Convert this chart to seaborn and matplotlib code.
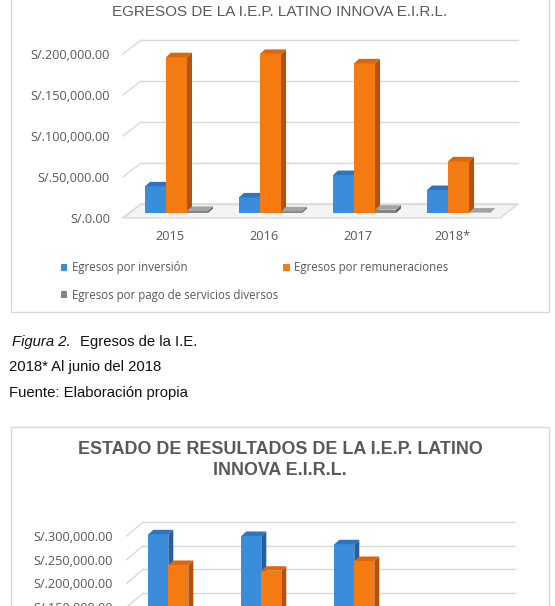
import matplotlib
matplotlib.use("Agg")
import numpy as np
import pandas as pd
import seaborn as sns
import matplotlib.pyplot as plt
import matplotlib.transforms as mtransforms
from matplotlib.patches import Polygon, Rectangle
from matplotlib.lines import Line2D
from matplotlib.ticker import FuncFormatter

# values
years = ["2015", "2016", "2017", "2018*"]

egresos_series = ["Egresos por inversión", "Egresos por remuneraciones",
                  "Egresos por pago de servicios diversos"]
egresos_inversion = [32500, 19000, 46300, 28000]
egresos_remuneraciones = [190000, 194000, 182500, 63000]
egresos_servicios = [2500, 2000, 4000, 500]

resultados_series = ["Ingresos", "Egresos", "Utilidad"]
ingresos = [293000, 289500, 272000, 130000]
egresos_totales = [228300, 216200, 236700, 91500]
utilidad = [64700, 73300, 35300, 38500]

W, H, DPI = 555, 606, 100
front_colors = ["#3C8CDC", "#F47A12", "#858585"]
side_colors = ["#22609F", "#B4520A", "#5E5E5E"]
top_colors = ["#2F74BF", "#DC660C", "#A3A3A3"]
GRAY = "#595959"
GRID = "#D9D9D9"
SMALL = "Open Sans"
ARIAL = "Liberation Sans"


def box(x0, y0, x1, y1):
    # pixel box (from top-left) -> figure fraction rect
    return [x0 / W, 1 - y1 / H, (x1 - x0) / W, (y1 - y0) / H]


def px(x, y):
    return x / W, 1 - y / H


def long_table(series, values):
    rows = []
    for name, vals in zip(series, values):
        for year, v in zip(years, vals):
            rows.append({"year": year, "serie": name, "value": v})
    return pd.DataFrame(rows)


def chart_3d(ax, df, series, xlim, ymax, step, width, ypad=9.4, tick_from=0,
             bar_depth=(5, 4.5), wall_dx=18, wall_up=9, drop=5):
    fig = ax.figure
    sns.barplot(data=df, x="year", y="value", hue="serie", hue_order=series,
                palette=front_colors, width=width, saturation=1, linewidth=0,
                legend=False, ax=ax)
    ax.set_xlim(*xlim)
    ax.set_ylim(0, ymax)
    ax.set_xlabel("")
    ax.set_ylabel("")
    for s in ax.spines.values():
        s.set_visible(False)
    ax.set_facecolor("none")
    ax.grid(False)

    # ticks
    levels = np.arange(tick_from, ymax + 1, step)
    ax.set_yticks(levels)
    ax.yaxis.set_major_formatter(FuncFormatter(lambda v, p: f"S/.{v:,.2f}"))
    ax.tick_params(axis="both", length=0, colors=GRAY, labelsize=9.2)
    ax.tick_params(axis="y", pad=ypad)
    ax.tick_params(axis="x", pad=12.2)
    for lab in ax.get_yticklabels() + ax.get_xticklabels():
        lab.set_fontfamily(SMALL)
    down = mtransforms.ScaledTranslation(0, -drop / DPI, fig.dpi_scale_trans)
    left = mtransforms.ScaledTranslation(-6.5 / DPI, 0, fig.dpi_scale_trans)
    for t in ax.yaxis.get_major_ticks():
        t.label1.set_transform(t.label1.get_transform() + down)
    for t in ax.xaxis.get_major_ticks():
        t.label1.set_transform(t.label1.get_transform() + left)

    ident = mtransforms.IdentityTransform()
    T = ax.transData
    x_l, x_r = xlim
    # floor
    (fl, fz), (fr, _) = T.transform([(x_l, 0), (x_r, 0)])
    floor = Polygon([(fl, fz - drop), (fr, fz - drop), (fr + wall_dx, fz + wall_up),
                     (fl + wall_dx, fz + wall_up)], closed=True, transform=ident,
                    facecolor="#F4F4F4", edgecolor=GRID, lw=1, zorder=0.5, clip_on=False)
    ax.add_patch(floor)
    # back wall gridlines + left wall edges
    for v in levels:
        (a, y), (b, _) = T.transform([(x_l, v), (x_r, v)])
        ax.add_line(Line2D([a + wall_dx, b + wall_dx], [y + wall_up, y + wall_up],
                           transform=ident, color=GRID, lw=1, zorder=0.6, clip_on=False))
        ax.add_line(Line2D([a, a + wall_dx], [y - drop, y + wall_up],
                           transform=ident, color=GRID, lw=1, zorder=0.6, clip_on=False))

    # fake depth on the bars
    ddx, ddy = bar_depth
    for i, cont in enumerate(ax.containers):
        z = 2 + i * 0.1
        for bar in cont:
            bar.set_zorder(z)
            x0, y0 = bar.get_x(), bar.get_y()
            (a, b0), (c, b1) = T.transform([(x0, y0), (x0 + bar.get_width(), y0 + bar.get_height())])
            topf = Polygon([(a, b1), (c, b1), (c + ddx, b1 + ddy), (a + ddx, b1 + ddy)],
                           closed=True, transform=ident, facecolor=top_colors[i],
                           lw=0, zorder=z, clip_on=False)
            sidef = Polygon([(c, b0), (c, b1), (c + ddx, b1 + ddy), (c + ddx, b0 + ddy)],
                            closed=True, transform=ident, facecolor=side_colors[i],
                            lw=0, zorder=z, clip_on=False)
            ax.add_patch(sidef)
            ax.add_patch(topf)


fig = plt.figure(figsize=(W / DPI, H / DPI), dpi=DPI)
fig.patch.set_facecolor("white")

# chart frames
for y0, y1 in [(-5, 312), (427, 620)]:
    x0, yb = px(11, y1)
    fig.add_artist(Rectangle((x0, yb), 538 / W, (y1 - y0) / H, transform=fig.transFigure,
                             facecolor="white", edgecolor=GRID, lw=1, zorder=0))

# top chart: egresos
df_top = long_table(egresos_series, [egresos_inversion, egresos_remuneraciones, egresos_servicios])
ax1 = fig.add_axes(box(123, 49, 500, 213))
chart_3d(ax1, df_top, egresos_series, xlim=(-0.569, 3.441), ymax=200000, step=50000, width=0.67)
fig.text(*px(280, 11.5), "EGRESOS DE LA I.E.P. LATINO INNOVA E.I.R.L.", ha="center", va="center",
         fontsize=11, color=GRAY, family=ARIAL)

handles = [Rectangle((0, 0), 1, 1, facecolor=c, edgecolor="none") for c in front_colors]
order = [0, 2, 1]
fig.legend([handles[i] for i in order], [egresos_series[i] for i in order],
           loc="upper left", bbox_to_anchor=px(61, 261.5), ncol=2, frameon=False,
           prop={"family": SMALL, "size": 8.3}, labelcolor=GRAY,
           handlelength=0.55, handleheight=0.55, handletextpad=0.38,
           columnspacing=0.46, labelspacing=1.25, borderpad=0, borderaxespad=0)

# caption
fig.text(*px(11.7, 341.7), "Figura 2.", style="italic", fontsize=10.7, family=ARIAL,
         va="center", color="#111111")
fig.text(*px(80, 341.7), "Egresos de la I.E.", fontsize=10.7, family=ARIAL,
         va="center", color="#111111")
fig.text(*px(9.3, 366.7), "2018* Al junio del 2018", fontsize=10.7, family=ARIAL,
         va="center", color="#111111")
fig.text(*px(9.3, 392.7), "Fuente: Elaboración propia", fontsize=10.7, family=ARIAL,
         va="center", color="#111111")

# bottom chart: estado de resultados (cut by the page, only the top part shows)
df_bot = long_table(resultados_series, [ingresos, egresos_totales, utilidad])
ax2 = fig.add_axes(box(126.7, 531, 498, 673.2))
chart_3d(ax2, df_bot, resultados_series, xlim=(-0.555, 3.438), ymax=300000, step=50000,
         width=0.645, wall_dx=16.5, ypad=10, tick_from=150000)
ax2.tick_params(axis="x", labelbottom=False)  # below the page edge anyway
fig.text(*px(280, 460), "ESTADO DE RESULTADOS DE LA I.E.P. LATINO\nINNOVA E.I.R.L.",
         ha="center", va="center", fontsize=12.9, fontweight="bold", color=GRAY,
         family=ARIAL, linespacing=1.27)

fig.savefig("out.png", dpi=DPI, facecolor="white")
